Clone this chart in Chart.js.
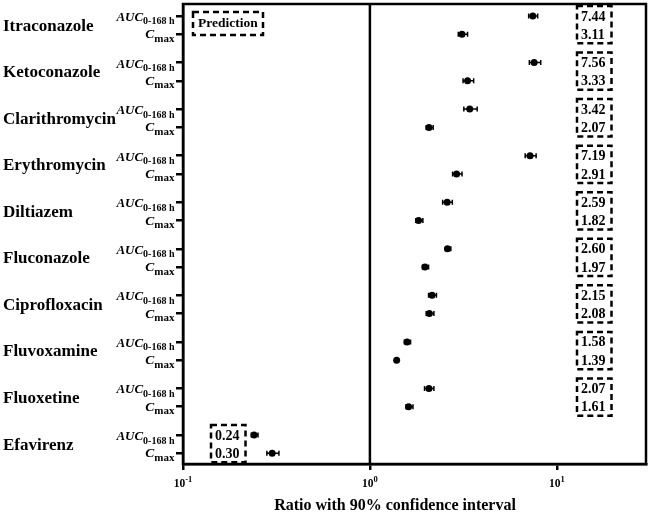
<!DOCTYPE html>
<html>
<head>
<meta charset="utf-8">
<script src="https://cdn.jsdelivr.net/npm/chart.js@4.4.1/dist/chart.umd.min.js"></script>
<style>
html,body{margin:0;padding:0;background:#fff}
#wrap{width:650px;height:515px;position:relative}
</style>
</head>
<body>
<div id="wrap"><canvas id="myChart"></canvas></div>
<script>
// drugs, top to bottom
const drugs = ['Itraconazole','Ketoconazole','Clarithromycin','Erythromycin','Diltiazem',
               'Fluconazole','Ciprofloxacin','Fluvoxamine','Fluoxetine','Efavirenz'];
// AUC0-168h ratio with 90% CI
const aucRatio = [7.44, 7.56, 3.42, 7.19, 2.59, 2.60, 2.15, 1.58, 2.07, 0.24];
const aucLow   = [7.07, 7.13, 3.18, 6.77, 2.45, 2.54, 2.06, 1.53, 1.96, 0.232];
const aucHigh  = [7.90, 8.20, 3.75, 7.75, 2.76, 2.71, 2.27, 1.65, 2.20, 0.252];
// Cmax ratio with 90% CI
const cmaxRatio = [3.11, 3.33, 2.07, 2.91, 1.82, 1.97, 2.08, 1.39, 1.61, 0.30];
const cmaxLow   = [2.97, 3.15, 2.00, 2.77, 1.76, 1.91, 2.00, 1.37, 1.56, 0.281];
const cmaxHigh  = [3.33, 3.59, 2.18, 3.11, 1.92, 2.06, 2.20, 1.41, 1.70, 0.326];
// x axis ticks (log scale)
const xTicks = [0.1, 1, 10];
const xTickExp = ['-1', '0', '1'];

const SERIF = '"Liberation Serif", "Times New Roman", serif';
const PAIR = 2.545; // distance between drugs, in row units

const aucPts = drugs.map((d, i) => ({x: aucRatio[i], y: i * PAIR, lo: aucLow[i], hi: aucHigh[i]}));
const cmaxPts = drugs.map((d, i) => ({x: cmaxRatio[i], y: i * PAIR + 1, lo: cmaxLow[i], hi: cmaxHigh[i]}));
const rowTicks = [];
drugs.forEach((d, i) => { rowTicks.push(i * PAIR); rowTicks.push(i * PAIR + 1); });

function drawRich(ctx, parts, x, y, align) {
  let w = 0;
  parts.forEach(p => { ctx.font = p.font; w += ctx.measureText(p.text).width; });
  let cx = align === 'right' ? x - w : (align === 'center' ? x - w / 2 : x);
  ctx.textAlign = 'left';
  ctx.textBaseline = 'alphabetic';
  parts.forEach(p => {
    ctx.font = p.font;
    ctx.fillText(p.text, cx, y + (p.dy || 0));
    cx += ctx.measureText(p.text).width;
  });
}

function dashedBox(ctx, x1, y1, x2, y2) {
  ctx.save();
  ctx.setLineDash([6, 4]);
  ctx.lineWidth = 2.5;
  ctx.strokeStyle = '#000';
  ctx.strokeRect(x1, y1, x2 - x1, y2 - y1);
  ctx.restore();
}

// error bars under the points
const errorBars = {
  id: 'errorBars',
  beforeDatasetsDraw(chart) {
    const ctx = chart.ctx, xs = chart.scales.x, ys = chart.scales.y;
    ctx.save();
    ctx.strokeStyle = '#000';
    ctx.lineWidth = 1.5;
    chart.data.datasets.forEach(ds => {
      ds.data.forEach(p => {
        const y = ys.getPixelForValue(p.y);
        const a = xs.getPixelForValue(p.lo), b = xs.getPixelForValue(p.hi);
        ctx.beginPath();
        ctx.moveTo(a, y); ctx.lineTo(b, y);
        ctx.moveTo(a, y - 2.5); ctx.lineTo(a, y + 2.5);
        ctx.moveTo(b, y - 2.5); ctx.lineTo(b, y + 2.5);
        ctx.stroke();
      });
    });
    ctx.restore();
  }
};

// frame, reference line, labels and boxes
const decor = {
  id: 'decor',
  afterDraw(chart) {
    const ctx = chart.ctx, xs = chart.scales.x, ys = chart.scales.y, ca = chart.chartArea;
    ctx.save();
    ctx.fillStyle = '#000';
    ctx.strokeStyle = '#000';
    ctx.lineWidth = 2.5;
    ctx.strokeRect(ca.left, ca.top, ca.right - ca.left, ca.bottom - ca.top);
    const x1 = xs.getPixelForValue(1);
    ctx.beginPath(); ctx.moveTo(x1, ca.top); ctx.lineTo(x1, ca.bottom); ctx.stroke();

    // y labels
    drugs.forEach((d, i) => {
      const ya = ys.getPixelForValue(i * PAIR), yc = ys.getPixelForValue(i * PAIR + 1);
      ctx.font = 'bold 17px ' + SERIF;
      ctx.textAlign = 'left';
      ctx.textBaseline = 'middle';
      ctx.fillText(d, 3, (ya + yc) / 2 + 1);
      const xr = ca.left - 8.5;
      drawRich(ctx, [
        {text: 'AUC', font: 'italic bold 13px ' + SERIF},
        {text: '0-168 h', font: 'bold 10px ' + SERIF, dy: 3.5}
      ], xr, ya + 5, 'right');
      drawRich(ctx, [
        {text: 'C', font: 'italic bold 13.5px ' + SERIF},
        {text: 'max', font: 'bold 11px ' + SERIF, dy: 3.5}
      ], xr, yc + 4, 'right');
    });

    // x tick labels
    xTicks.forEach((v, i) => {
      drawRich(ctx, [
        {text: '10', font: 'bold 11.5px ' + SERIF},
        {text: xTickExp[i], font: 'bold 8.5px ' + SERIF, dy: -5}
      ], xs.getPixelForValue(v), ca.bottom + 23, 'center');
    });

    // x title
    ctx.font = 'bold 16px ' + SERIF;
    ctx.textAlign = 'center';
    ctx.textBaseline = 'alphabetic';
    ctx.fillText('Ratio with 90% confidence interval', 395, 510);

    // Prediction box
    ctx.font = 'bold 13.5px ' + SERIF;
    ctx.textAlign = 'left';
    ctx.textBaseline = 'middle';
    ctx.fillText('Prediction', ca.left + 15, ca.top + 20);
    dashedBox(ctx, ca.left + 10, ca.top + 8, ca.left + 80, ca.top + 31);

    // value boxes
    drugs.forEach((d, i) => {
      const ya = ys.getPixelForValue(i * PAIR), yc = ys.getPixelForValue(i * PAIR + 1);
      const tx = aucRatio[i] < 1 ? ca.left + 32 : ca.right - 65;
      ctx.font = 'bold 14px ' + SERIF;
      ctx.textAlign = 'left';
      ctx.textBaseline = 'middle';
      const t1 = aucRatio[i].toFixed(2), t2 = cmaxRatio[i].toFixed(2);
      ctx.fillText(t1, tx, ya + 1);
      ctx.fillText(t2, tx, yc + 1);
      const w = Math.max(ctx.measureText(t1).width, ctx.measureText(t2).width);
      dashedBox(ctx, tx - 4, ya - 10, tx + w + 6, yc + 9);
    });
    ctx.restore();
  }
};

new Chart(document.getElementById('myChart'), {
  type: 'scatter',
  data: {
    datasets: [
      {label: 'AUC', data: aucPts, pointRadius: 3.5, pointBackgroundColor: '#000', pointBorderWidth: 0},
      {label: 'Cmax', data: cmaxPts, pointRadius: 3.5, pointBackgroundColor: '#000', pointBorderWidth: 0}
    ]
  },
  options: {
    responsive: true,
    maintainAspectRatio: false,
    animation: false,
    layout: {padding: {top: 3, right: 2, left: 0, bottom: 0}},
    plugins: {legend: {display: false}, tooltip: {enabled: false}},
    scales: {
      x: {
        type: 'logarithmic',
        min: 0.1, max: 30,
        afterBuildTicks: s => { s.ticks = xTicks.map(v => ({value: v})); },
        afterFit: s => { s.height = 51; },
        ticks: {display: false},
        grid: {drawOnChartArea: false, drawTicks: true, tickLength: 6, lineWidth: 2.5, color: '#000'},
        border: {display: true, width: 2.5, color: '#000'}
      },
      y: {
        type: 'linear',
        reverse: true,
        min: -0.655, max: 24.49,
        afterBuildTicks: s => { s.ticks = rowTicks.map(v => ({value: v})); },
        afterFit: s => { s.width = 183; },
        ticks: {display: false},
        grid: {drawOnChartArea: false, drawTicks: true, tickLength: 7, lineWidth: 2.5, color: '#000'},
        border: {display: true, width: 2.5, color: '#000'}
      }
    }
  },
  plugins: [errorBars, decor]
});
</script>
</body>
</html>
